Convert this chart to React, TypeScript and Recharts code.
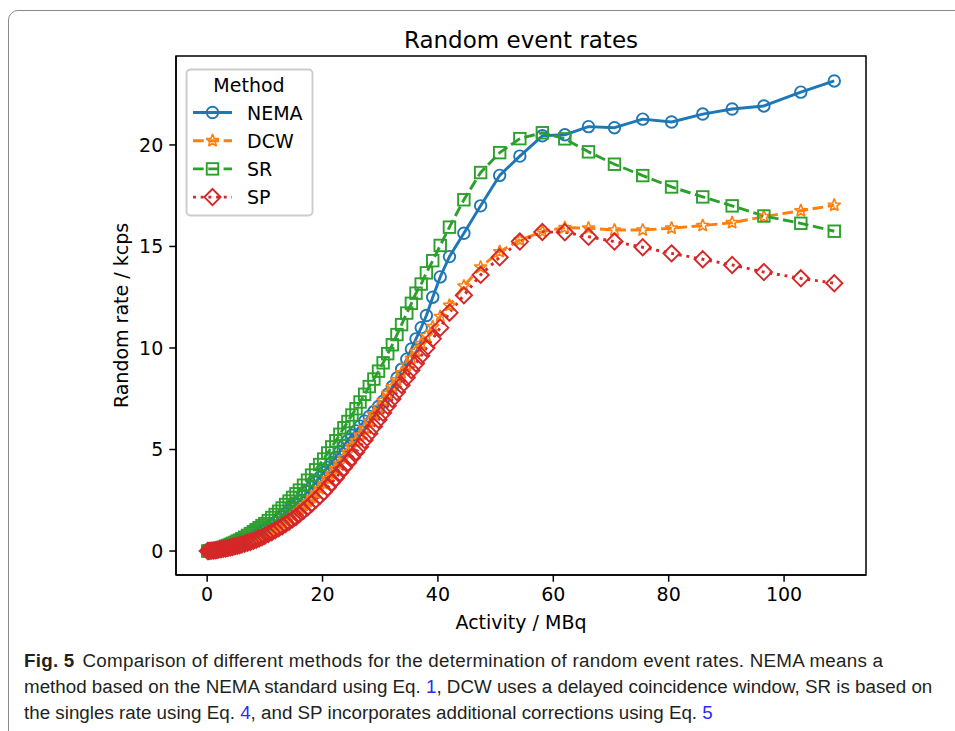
import React from "react";
import { LineChart, Line, XAxis, YAxis } from "recharts";

// Random event rates vs activity, four estimation methods.
// Values (dense low-activity part estimated).

const ACTIVITY = [
  0.1, 0.3, 0.5, 0.8, 1.1, 1.4, 1.7, 2.0, 2.4, 2.8,
  3.2, 3.6, 4.0, 4.4, 4.8, 5.2, 5.6, 6.0, 6.5, 7.0,
  7.5, 8.0, 8.5, 9.0, 9.5, 10.0, 10.6, 11.2, 11.8, 12.4,
  13.0, 13.6, 14.2, 14.8, 15.4, 16.0, 16.7, 17.4, 18.1, 18.8,
  19.5, 20.2, 20.9, 21.6, 22.3, 23.0, 23.7, 24.4, 25.1, 25.8,
  26.5, 27.3, 28.1, 28.9, 29.7, 30.5, 31.3, 32.1, 32.9, 33.7,
  34.6, 35.4, 36.2, 37.1, 38.0, 39.1, 40.4, 42.0, 44.5, 47.4,
  50.7, 54.2, 58.1, 62.0, 66.1, 70.6, 75.5, 80.5, 85.9, 91.0,
  96.5, 102.9, 108.7,
];

const NEMA = [
  0.0, 0.01, 0.01, 0.02, 0.03, 0.04, 0.05, 0.07, 0.09, 0.12,
  0.14, 0.17, 0.2, 0.24, 0.28, 0.33, 0.37, 0.42, 0.49, 0.56,
  0.63, 0.7, 0.78, 0.87, 0.96, 1.05, 1.17, 1.29, 1.41, 1.54,
  1.69, 1.84, 2.0, 2.16, 2.33, 2.5, 2.71, 2.92, 3.14, 3.38,
  3.62, 3.87, 4.12, 4.36, 4.61, 4.9, 5.18, 5.46, 5.7, 5.92,
  6.15, 6.4, 6.63, 6.87, 7.12, 7.38, 7.72, 8.1, 8.52, 8.95,
  9.45, 9.95, 10.45, 11.0, 11.6, 12.5, 13.5, 14.5, 15.65, 17.0,
  18.5, 19.45, 20.45, 20.5, 20.9, 20.85, 21.27, 21.13, 21.52, 21.77,
  21.92, 22.6, 23.15,
];

const DCW = [
  0.0, 0.01, 0.02, 0.03, 0.04, 0.05, 0.06, 0.08, 0.1, 0.12,
  0.15, 0.17, 0.2, 0.23, 0.26, 0.29, 0.33, 0.36, 0.41, 0.46,
  0.52, 0.57, 0.64, 0.71, 0.78, 0.85, 0.94, 1.03, 1.12, 1.23,
  1.35, 1.47, 1.6, 1.75, 1.9, 2.05, 2.24, 2.43, 2.63, 2.86,
  3.08, 3.32, 3.56, 3.81, 4.06, 4.32, 4.59, 4.86, 5.14, 5.42,
  5.71, 6.05, 6.39, 6.73, 7.07, 7.41, 7.75, 8.09, 8.43, 8.77,
  9.15, 9.49, 9.83, 10.22, 10.6, 11.05, 11.55, 12.1, 13.05, 13.98,
  14.74, 15.32, 15.73, 15.93, 15.9, 15.81, 15.81, 15.9, 16.03, 16.17,
  16.47, 16.76, 17.03,
];

const SR = [
  0.0, 0.01, 0.02, 0.03, 0.05, 0.07, 0.09, 0.12, 0.15, 0.19,
  0.24, 0.28, 0.33, 0.38, 0.43, 0.49, 0.54, 0.6, 0.68, 0.77,
  0.86, 0.95, 1.05, 1.15, 1.25, 1.35, 1.5, 1.65, 1.8, 1.96,
  2.12, 2.29, 2.46, 2.64, 2.82, 3.0, 3.24, 3.49, 3.74, 4.0,
  4.26, 4.53, 4.83, 5.13, 5.43, 5.75, 6.07, 6.38, 6.7, 7.01,
  7.34, 7.72, 8.1, 8.47, 8.86, 9.27, 9.72, 10.16, 10.66, 11.15,
  11.72, 12.2, 12.7, 13.15, 13.7, 14.3, 15.05, 15.95, 17.3, 18.64,
  19.62, 20.31, 20.6, 20.3, 19.66, 19.05, 18.49, 17.93, 17.44, 17.0,
  16.5, 16.14, 15.75,
];

const SP = [
  0.0, 0.0, 0.01, 0.02, 0.03, 0.04, 0.05, 0.07, 0.09, 0.11,
  0.13, 0.15, 0.17, 0.2, 0.23, 0.26, 0.29, 0.32, 0.36, 0.41,
  0.45, 0.5, 0.56, 0.62, 0.68, 0.75, 0.84, 0.93, 1.02, 1.12,
  1.22, 1.33, 1.44, 1.56, 1.68, 1.82, 1.98, 2.15, 2.33, 2.52,
  2.71, 2.91, 3.13, 3.37, 3.6, 3.85, 4.1, 4.35, 4.61, 4.87,
  5.14, 5.47, 5.79, 6.13, 6.47, 6.81, 7.15, 7.49, 7.83, 8.17,
  8.55, 8.9, 9.24, 9.62, 10.0, 10.45, 11.0, 11.74, 12.6, 13.6,
  14.47, 15.24, 15.71, 15.7, 15.48, 15.24, 14.96, 14.66, 14.37, 14.09,
  13.74, 13.43, 13.19,
];

const X_TICKS = [0, 20, 40, 60, 80, 100];
const Y_TICKS = [0, 5, 10, 15, 20];

const rows = ACTIVITY.map((x, i) => ({
  x,
  nema: NEMA[i],
  dcw: DCW[i],
  sr: SR[i],
  sp: SP[i],
}));

// matplotlib-ish sizes at ~1.92 px/pt
const FONT = "'DejaVu Sans', sans-serif";
const MS = 11.5; // marker size
const MEW = 1.9; // marker edge width
const LW = 2.9; // line width

type Kind = "circle" | "star" | "square" | "diamond";

function Marker({ kind, cx, cy, color }: { kind: Kind; cx: number; cy: number; color: string }) {
  const h = MS / 2;
  const common = { fill: "none", stroke: color, strokeWidth: MEW };
  if (kind === "circle") return <circle cx={cx} cy={cy} r={h} {...common} />;
  if (kind === "square")
    return <rect x={cx - h} y={cy - h} width={MS} height={MS} {...common} />;
  if (kind === "diamond") {
    const d = h * Math.SQRT2;
    return (
      <polygon
        points={`${cx},${cy - d} ${cx + d},${cy} ${cx},${cy + d} ${cx - d},${cy}`}
        {...common}
      />
    );
  }
  // hollow five-point star
  const R = 6.6;
  const pts: string[] = [];
  for (let k = 0; k < 10; k++) {
    const r = k % 2 ? R * 0.42 : R;
    const a = ((-90 + k * 36) * Math.PI) / 180;
    pts.push(`${cx + r * Math.cos(a)},${cy + r * Math.sin(a)}`);
  }
  return (
    <polygon
      points={pts.join(" ")}
      fill="none"
      stroke={color}
      strokeWidth={1.6}
      strokeLinejoin="miter"
      strokeMiterlimit={2}
    />
  );
}

const SERIES: { key: string; name: string; color: string; dash?: string; kind: Kind }[] = [
  { key: "nema", name: "NEMA", color: "#1f77b4", kind: "circle" },
  { key: "dcw", name: "DCW", color: "#ff7f0e", dash: "10.7 4.6", kind: "star" },
  { key: "sr", name: "SR", color: "#2ca02c", dash: "10.7 4.6", kind: "square" },
  { key: "sp", name: "SP", color: "#d62728", dash: "2.9 4.8", kind: "diamond" },
];

// plot box in page pixels
const PLOT = { left: 176, top: 56, right: 866, bottom: 575 };
const Y_AXIS_W = 70;
const X_AXIS_H = 40;

const tickStyle = { fontSize: 19, fill: "#000", fontFamily: FONT };
const EQ = { color: "#2a2aff" };

export default function App() {
  return (
    <div
      style={{
        position: "fixed",
        left: 0,
        top: 0,
        width: 955,
        height: 731,
        overflow: "hidden",
        background: "#fff",
      }}
    >
      {/* journal figure frame */}
      <div
        style={{
          position: "absolute",
          left: 8,
          top: 10,
          width: 980,
          height: 760,
          border: "1px solid #8a8a8a",
          borderTopLeftRadius: 10,
        }}
      />

      <div style={{ position: "absolute", left: 0, top: 0 }}>
        <LineChart
          width={955}
          height={731}
          data={rows}
          margin={{
            top: PLOT.top,
            right: 955 - PLOT.right,
            bottom: 731 - PLOT.bottom - X_AXIS_H,
            left: PLOT.left - Y_AXIS_W,
          }}
        >
          <XAxis
            type="number"
            dataKey="x"
            domain={[-5.4, 114.2]}
            ticks={X_TICKS}
            allowDataOverflow
            height={X_AXIS_H}
            tick={tickStyle}
            tickSize={6.7}
            tickMargin={6}
            stroke="#000"
            axisLine={{ stroke: "#000", strokeWidth: 1.5 }}
            tickLine={{ stroke: "#000", strokeWidth: 1.5 }}
          />
          <YAxis
            type="number"
            domain={[-1.18, 24.38]}
            ticks={Y_TICKS}
            allowDataOverflow
            width={Y_AXIS_W}
            tick={tickStyle}
            tickSize={6.7}
            tickMargin={6}
            stroke="#000"
            axisLine={{ stroke: "#000", strokeWidth: 1.5 }}
            tickLine={{ stroke: "#000", strokeWidth: 1.5 }}
          />
          {SERIES.map((s) => (
            <Line
              key={s.key}
              dataKey={s.key}
              name={s.name}
              type="linear"
              stroke={s.color}
              strokeWidth={LW}
              strokeDasharray={s.dash}
              strokeLinejoin="round"
              dot={(p: any) => (
                <Marker
                  key={`${s.key}-${p.index}`}
                  kind={s.kind}
                  cx={p.cx}
                  cy={p.cy}
                  color={s.color}
                />
              )}
              activeDot={false}
              isAnimationActive={false}
            />
          ))}
        </LineChart>
      </div>

      {/* frame, title, axis labels, legend */}
      <svg
        width={955}
        height={640}
        style={{ position: "absolute", left: 0, top: 0, pointerEvents: "none" }}
      >
        <rect
          x={PLOT.left}
          y={PLOT.top}
          width={PLOT.right - PLOT.left}
          height={PLOT.bottom - PLOT.top}
          fill="none"
          stroke="#000"
          strokeWidth={1.5}
        />
        <text
          x={(PLOT.left + PLOT.right) / 2}
          y={40}
          textAnchor="middle"
          dominantBaseline="central"
          fontFamily={FONT}
          fontSize={23}
          fill="#000"
        >
          Random event rates
        </text>
        <text
          x={(PLOT.left + PLOT.right) / 2}
          y={622}
          textAnchor="middle"
          dominantBaseline="central"
          fontFamily={FONT}
          fontSize={19}
          fill="#000"
        >
          Activity / MBq
        </text>
        <text
          x={0}
          y={0}
          transform={`translate(121, ${(PLOT.top + PLOT.bottom) / 2}) rotate(-90)`}
          textAnchor="middle"
          dominantBaseline="central"
          fontFamily={FONT}
          fontSize={19}
          fill="#000"
        >
          Random rate / kcps
        </text>

        {/* legend */}
        <rect
          x={186.5}
          y={69.5}
          width={126}
          height={146}
          rx={4}
          fill="#fff"
          fillOpacity={0.8}
          stroke="#cccccc"
          strokeWidth={1.9}
        />
        <text
          x={249}
          y={85}
          textAnchor="middle"
          dominantBaseline="central"
          fontFamily={FONT}
          fontSize={19}
          fill="#000"
        >
          Method
        </text>
        {SERIES.map((s, i) => {
          const y = 112.5 + i * 28.2;
          return (
            <g key={s.key}>
              <line
                x1={193}
                x2={232}
                y1={y}
                y2={y}
                stroke={s.color}
                strokeWidth={LW}
                strokeDasharray={s.dash}
              />
              <Marker kind={s.kind} cx={212.5} cy={y} color={s.color} />
              <text
                x={247}
                y={y}
                dominantBaseline="central"
                fontFamily={FONT}
                fontSize={19}
                fill="#000"
              >
                {s.name}
              </text>
            </g>
          );
        })}
      </svg>

      {/* caption */}
      <div
        style={{
          position: "absolute",
          left: 24,
          top: 648,
          width: 925,
          fontFamily: "'Liberation Sans Narrow', 'Liberation Sans', sans-serif",
          fontSize: 18.8,
          lineHeight: "26px",
          color: "#231f20",
          whiteSpace: "nowrap",
        }}
      >
        <div style={{ letterSpacing: 0.25 }}>
          <b style={{ marginRight: 8 }}>Fig. 5</b>Comparison of different methods for the
          determination of random event rates. NEMA means a
        </div>
        <div>
          method based on the NEMA standard using Eq. <span style={EQ}>1</span>, DCW uses a delayed
          coincidence window, SR is based on
        </div>
        <div>
          the singles rate using Eq. <span style={EQ}>4</span>, and SP incorporates additional
          corrections using Eq. <span style={EQ}>5</span>
        </div>
      </div>
    </div>
  );
}
